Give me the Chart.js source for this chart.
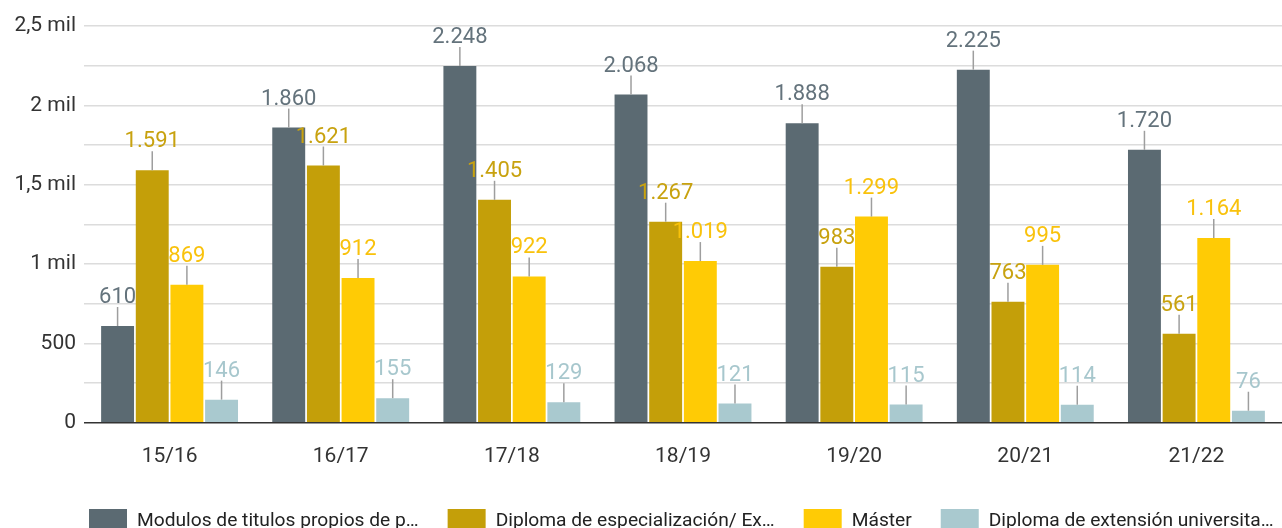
<!DOCTYPE html>
<html>
<head>
<meta charset="utf-8">
<script src="https://cdn.jsdelivr.net/npm/chart.js@4.4.1/dist/chart.umd.min.js"></script>
<style>
  html, body { margin: 0; padding: 0; background: #fff; }
  #wrap { width: 1282px; height: 528px; }
</style>
</head>
<body>
<div id="wrap"><canvas id="chart" width="1282" height="528"></canvas></div>
<script>
// Cursos académicos
const categories = ['15/16', '16/17', '17/18', '18/19', '19/20', '20/21', '21/22'];

const seriesNames = [
    'Modulos de titulos propios de p…',
    'Diploma de especialización/ Ex…',
    'Máster',
    'Diploma de extensión universita…'
];

const modulos   = [610, 1860, 2248, 2068, 1888, 2225, 1720];
const diploma   = [1591, 1621, 1405, 1267, 983, 763, 561];
const master    = [869, 912, 922, 1019, 1299, 995, 1164];
const extension = [146, 155, 129, 121, 115, 114, 76];

const yTicks = [0, 500, 1000, 1500, 2000, 2500];

const barColors   = ['#5b6a72', '#c49f09', '#ffcb05', '#a9c9cf'];
const labelColors = ['#64737c', '#c8a20f', '#f9c20c', '#a7c7cd'];

const FONT = 'Roboto';

const fmtNum = v => String(v).replace(/\B(?=(\d{3})+(?!\d))/g, '.');
const fmtTick = v => {
    if (v < 1000) return String(v);
    return String(v / 1000).replace('.', ',') + ' mil';
};

// value labels with small leader line above each bar
const valueLabels = {
    id: 'valueLabels',
    afterDatasetsDraw(chart) {
        const ctx = chart.ctx;
        ctx.save();
        chart.data.datasets.forEach((ds, i) => {
            chart.getDatasetMeta(i).data.forEach((bar, j) => {
                ctx.strokeStyle = '#9e9e9e';
                ctx.lineWidth = 1.5;
                ctx.beginPath();
                ctx.moveTo(bar.x, bar.y);
                ctx.lineTo(bar.x, bar.y - 19);
                ctx.stroke();
                ctx.fillStyle = labelColors[i];
                ctx.font = '22px ' + FONT;
                ctx.textAlign = 'center';
                ctx.textBaseline = 'alphabetic';
                ctx.fillText(fmtNum(ds.data[j]), bar.x, bar.y - 23);
            });
        });
        ctx.restore();
    }
};

// legend drawn by hand so it can sit at the very bottom
const bottomLegend = {
    id: 'bottomLegend',
    afterDraw(chart) {
        const ctx = chart.ctx;
        ctx.save();
        ctx.font = '19.2px ' + FONT;
        ctx.textBaseline = 'alphabetic';
        ctx.textAlign = 'left';
        let x = 89;
        chart.data.datasets.forEach((ds, i) => {
            ctx.fillStyle = barColors[i];
            ctx.fillRect(x, 509, 38, 19);
            ctx.fillStyle = '#222';
            const tx = x + 38 + 10;
            ctx.fillText(ds.label, tx, 526);
            x = tx + ctx.measureText(ds.label).width + 29;
        });
        ctx.restore();
    }
};

const series = [modulos, diploma, master, extension];

new Chart(document.getElementById('chart'), {
    type: 'bar',
    data: {
        labels: categories,
        datasets: series.map((d, i) => ({
            label: seriesNames[i],
            data: d,
            backgroundColor: barColors[i],
            borderWidth: 0,
            categoryPercentage: 0.81,
            barPercentage: 0.95
        }))
    },
    options: {
        responsive: false,
        animation: false,
        layout: { padding: { top: 26, right: 0, bottom: 46, left: 0 } },
        plugins: {
            legend: { display: false },
            tooltip: { enabled: false }
        },
        scales: {
            x: {
                grid: { display: false },
                border: { display: false },
                ticks: { font: { family: FONT, size: 21 }, color: '#333', padding: 13 }
            },
            y: {
                min: 0,
                max: 2500,
                afterFit: s => { s.width = 84; },
                afterBuildTicks: s => {
                    const t = [];
                    for (let v = 0; v <= 2500; v += 250) t.push({ value: v });
                    s.ticks = t;
                },
                border: { display: false },
                grid: {
                    drawTicks: false,
                    lineWidth: 1.5,
                    color: c => (c.tick && c.tick.value === 0 ? '#333' : '#dcdcdc')
                },
                ticks: {
                    padding: 8,
                    font: { family: FONT, size: 21 },
                    color: '#333',
                    callback: v => (yTicks.includes(v) ? fmtTick(v) : '')
                }
            }
        }
    },
    plugins: [valueLabels, bottomLegend]
});
</script>
</body>
</html>
